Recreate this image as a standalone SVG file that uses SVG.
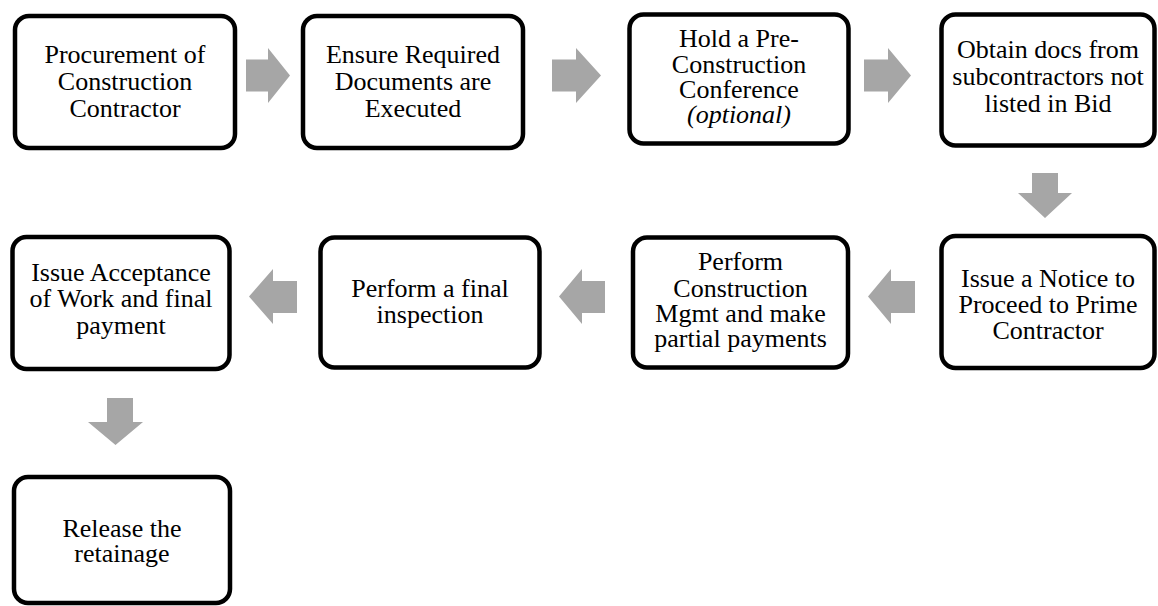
<svg xmlns="http://www.w3.org/2000/svg" width="1158" height="606" viewBox="0 0 1158 606">
<style>
.box{fill:#fff;stroke:#000;stroke-width:4.5}
.t{font-family:"Liberation Serif","Times New Roman",serif;font-size:26px;fill:#000;text-anchor:middle}
.i{font-style:italic}
.arr{fill:#a6a6a6}
</style>
<rect width="1158" height="606" fill="#fff"/>
<g id="connectors">
<polygon class="arr" points="246,59.5 268,59.5 268,48 290,75.5 268,103 268,91.5 246,91.5"/>
<polygon class="arr" points="552,59.5 576,59.5 576,48 601,75.5 576,103 576,91.5 552,91.5"/>
<polygon class="arr" points="864,59.5 888,59.5 888,48 911,75.5 888,103 888,91.5 864,91.5"/>
<polygon class="arr" points="1032,173 1058,173 1058,193 1072,193 1045,218 1018,193 1032,193"/>
<polygon class="arr" points="915,281 891,281 891,269 868,296.5 891,324 891,313 915,313"/>
<polygon class="arr" points="605,281 582,281 582,269 559,296.5 582,324 582,313 605,313"/>
<polygon class="arr" points="297,281 273,281 273,269 249,296.5 273,324 273,313 297,313"/>
<polygon class="arr" points="107,398 133,398 133,422 143,422 115.5,445 88,422 107,422"/>
</g>
<g id="n1"><rect class="box" x="15" y="16" width="220" height="132" rx="14"/>
<text class="t" x="125" y="63">Procurement of</text><text class="t" x="125" y="90">Construction</text><text class="t" x="125" y="117">Contractor</text></g>
<g id="n2"><rect class="box" x="303" y="16" width="220" height="132" rx="14"/>
<text class="t" x="413" y="63">Ensure Required</text><text class="t" x="413" y="90">Documents are</text><text class="t" x="413" y="117">Executed</text></g>
<g id="n3"><rect class="box" x="629.5" y="14.5" width="219" height="129" rx="14"/>
<text class="t" x="739" y="47">Hold a Pre-</text><text class="t" x="739" y="73">Construction</text><text class="t" x="739" y="98">Conference</text><text class="t i" x="739" y="123">(optional)</text></g>
<g id="n4"><rect class="box" x="941.5" y="14.5" width="213" height="131" rx="14"/>
<text class="t" x="1048" y="58">Obtain docs from</text><text class="t" x="1048" y="85">subcontractors not</text><text class="t" x="1048" y="112">listed in Bid</text></g>
<g id="n5"><rect class="box" x="941.5" y="236" width="213" height="132" rx="14"/>
<text class="t" x="1048" y="287">Issue a Notice to</text><text class="t" x="1048" y="313">Proceed to Prime</text><text class="t" x="1048" y="339">Contractor</text></g>
<g id="n6"><rect class="box" x="633" y="237.5" width="215" height="130" rx="14"/>
<text class="t" x="740.5" y="270">Perform</text><text class="t" x="740.5" y="297">Construction</text><text class="t" x="740.5" y="322">Mgmt and make</text><text class="t" x="740.5" y="347">partial payments</text></g>
<g id="n7"><rect class="box" x="320.5" y="237.5" width="219" height="130" rx="14"/>
<text class="t" x="430" y="297">Perform a final</text><text class="t" x="430" y="323">inspection</text></g>
<g id="n8"><rect class="box" x="12.5" y="237" width="217" height="132" rx="14"/>
<text class="t" x="121" y="281">Issue Acceptance</text><text class="t" x="121" y="307">of Work and final</text><text class="t" x="121" y="334">payment</text></g>
<g id="n9"><rect class="box" x="14" y="477" width="216" height="126" rx="14"/>
<text class="t" x="122" y="537">Release the</text><text class="t" x="122" y="562">retainage</text></g>
</svg>
